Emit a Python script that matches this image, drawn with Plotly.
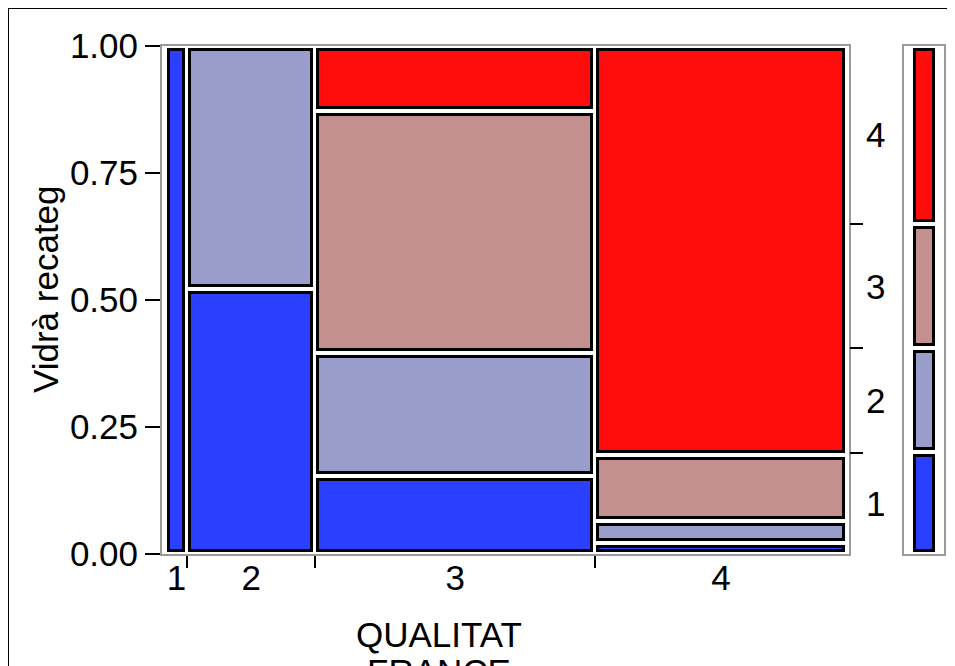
import plotly.graph_objects as go
import numpy as np

W, H = 955, 666
OFF = 8  # default page body margin

# ---- data ----
col_labels = ["1", "2", "3", "4"]                 # QUALITAT FRANCE
col_share = [0.0308, 0.1887, 0.4104, 0.3701]     # column widths (proportion of total)
row_labels = ["1", "2", "3", "4"]                 # Vidrà recateg levels
level1 = [1.000, 0.520, 0.152, 0.021]
level2 = [0.000, 0.480, 0.242, 0.043]
level3 = [0.000, 0.000, 0.478, 0.130]
level4 = [0.000, 0.000, 0.128, 0.806]
colors = ["#2B40FF", "#989DCB", "#C48F8F", "#FF0D0D"]
y_ticks = [0.0, 0.25, 0.5, 0.75, 1.0]
y_ticktext = ["0.00", "0.25", "0.50", "0.75", "1.00"]

levels = [level1, level2, level3, level4]


def px(x):
    return (x - OFF) / W


def py(y):
    return 1 - (y - OFF) / H


FONT = "Liberation Sans, Arial, sans-serif"
FS = 35

# pixel geometry
X0, X1 = 162, 849          # plot frame
M0, M1 = 166, 847          # mosaic extent inside the frame
Y0, Y1 = 46, 554
unit_x = M1 - M0
xr = [-(M0 - X0) / unit_x, 1 + (X1 - M1) / unit_x]
gx = 6 / unit_x
gy = 7 / (Y1 - Y0)

col_share = np.array(col_share)
col_edges = np.concatenate([[0], np.cumsum(col_share)])
col_centers = (col_edges[:-1] + col_edges[1:]) / 2

fig = go.Figure()

lev = np.array(levels)  # shape (4 levels, 4 cols)
cum = np.vstack([np.zeros(lev.shape[1]), np.cumsum(lev, axis=0)])
for k in range(lev.shape[0]):
    mask = lev[k] > 0
    fig.add_trace(go.Bar(
        x=col_centers[mask],
        y=(lev[k][mask] - gy),
        base=cum[k][mask] + gy / 2,
        width=(col_share[mask] - gx),
        marker=dict(color=colors[k], line=dict(color="black", width=3)),
        xaxis="x", yaxis="y", showlegend=False, hoverinfo="skip",
    ))

# marginal distribution (legend column and right axis)
marg = (lev * col_share[None, :]).sum(axis=1)
marg_edges = np.concatenate([[0], np.cumsum(marg)])
marg_centers = (marg_edges[:-1] + marg_edges[1:]) / 2
for k in range(len(marg)):
    fig.add_trace(go.Bar(
        x=[0.5], y=[marg[k] - gy], base=[marg_edges[k] + gy / 2], width=[0.475],
        marker=dict(color=colors[k], line=dict(color="black", width=3)),
        xaxis="x2", yaxis="y4", showlegend=False, hoverinfo="skip",
    ))

# invisible anchor trace so the right-hand axis is drawn
fig.add_trace(go.Scatter(x=[0.5], y=[0.5], mode="markers", marker=dict(opacity=0),
                         xaxis="x", yaxis="y2", showlegend=False, hoverinfo="skip"))

frame_col = "#9a9a9a"
fig.update_layout(
    width=W, height=H, margin=dict(l=0, r=0, t=0, b=0, autoexpand=False),
    paper_bgcolor="white", plot_bgcolor="white",
    barmode="overlay", bargap=0,
    font=dict(family=FONT, size=FS, color="black"),
    xaxis=dict(domain=[px(X0), px(X1)], range=xr, showgrid=False, zeroline=False,
               automargin=False,
               showline=True, linecolor=frame_col, linewidth=2, mirror=True,
               tickvals=list(col_centers), ticktext=col_labels,
               ticks="outside", ticklen=8, tickcolor="rgba(0,0,0,0)",
               ticklabelstandoff=-16,
               minor=dict(tickvals=list(col_edges[1:-1]), ticks="outside", ticklen=12,
                          tickwidth=2, tickcolor="black", showgrid=False),
               anchor="y"),
    yaxis=dict(domain=[py(Y1), py(Y0)], range=[0, 1], showgrid=False, zeroline=False,
               automargin=False,
               showline=True, linecolor=frame_col, linewidth=2, mirror=True,
               tickvals=y_ticks, ticktext=y_ticktext, ticks="outside", ticklen=15,
               tickwidth=2, tickcolor="black", anchor="x"),
    yaxis2=dict(overlaying="y", side="right", anchor="x", range=[0, 1], showgrid=False,
                automargin=False,
                zeroline=False, showline=False, tickvals=list(marg_centers),
                ticktext=row_labels, ticks="outside", ticklen=9,
                tickcolor="rgba(0,0,0,0)",
                minor=dict(tickvals=list(marg_edges[1:-1]), ticks="outside", ticklen=13,
                           tickwidth=2, tickcolor="black", showgrid=False)),
    xaxis2=dict(domain=[px(904), px(944)], range=[0, 1], showgrid=False, zeroline=False,
                automargin=False,
                showline=True, linecolor=frame_col, linewidth=2, mirror=True,
                showticklabels=False, ticks="", anchor="y4"),
    yaxis4=dict(domain=[py(Y1), py(Y0)], range=[0, 1], showgrid=False, zeroline=False,
                automargin=False,
                showline=True, linecolor=frame_col, linewidth=2, mirror=True,
                showticklabels=False, ticks="", anchor="x2"),
    shapes=[dict(type="rect", xref="paper", yref="paper",
                 x0=px(8), x1=px(990), y0=py(8), y1=py(720),
                 line=dict(color="black", width=2), fillcolor="rgba(0,0,0,0)")],
    annotations=[
        dict(text="Vidrà recateg", xref="paper", yref="paper", x=px(45), y=py(289),
             textangle=-90, showarrow=False, xanchor="center", yanchor="middle",
             font=dict(size=FS)),
        dict(text="QUALITAT", xref="paper", yref="paper", x=px(439), y=py(634),
             showarrow=False, xanchor="center", yanchor="middle", font=dict(size=FS)),
        dict(text="FRANCE", xref="paper", yref="paper", x=px(439), y=py(671),
             showarrow=False, xanchor="center", yanchor="middle", font=dict(size=FS)),
    ],
)

fig.write_html("out.html")
